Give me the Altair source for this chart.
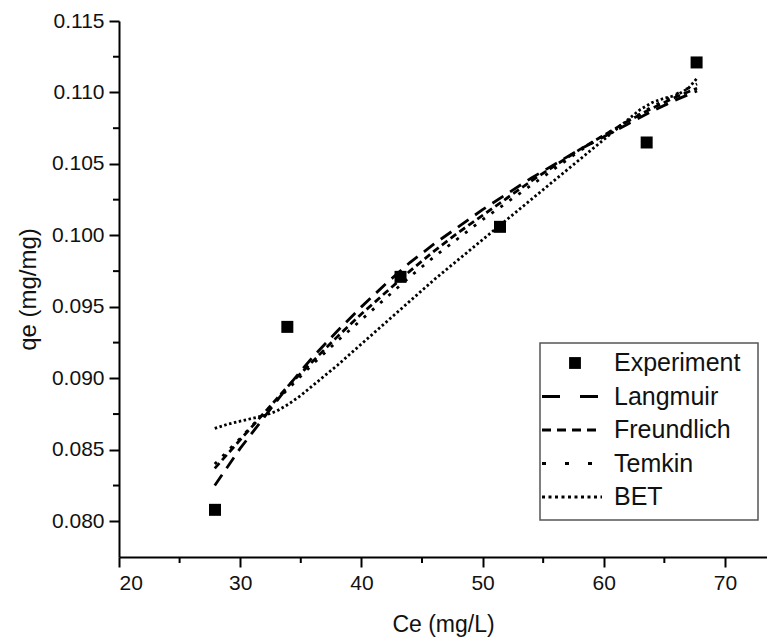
import altair as alt
import pandas as pd

# ---- data ----
exp_x = [27.92, 33.89, 43.23, 51.44, 63.54, 67.66]
exp_y = [0.0808, 0.0936, 0.0971, 0.1006, 0.1065, 0.1121]

model_x = [27.9, 30, 32, 34, 36, 38, 40, 42, 44, 46, 48, 50, 52, 54, 56, 58, 60, 62, 64, 66, 67.7]
langmuir_y = [0.0825, 0.0851, 0.0873, 0.0895, 0.0915, 0.0933, 0.0950, 0.0966, 0.0981, 0.0994, 0.1006,
              0.1018, 0.1029, 0.1040, 0.1050, 0.1060, 0.1069, 0.1078, 0.1087, 0.1095, 0.1101]
freundlich_y = [0.0837, 0.0857, 0.0876, 0.0895, 0.0912, 0.0929, 0.0945, 0.0960, 0.0975, 0.0989, 0.1002,
                0.1014, 0.1026, 0.1038, 0.1049, 0.1060, 0.1070, 0.1080, 0.1089, 0.1097, 0.1103]
temkin_y = [0.0840, 0.0858, 0.0876, 0.0893, 0.0910, 0.0926, 0.0941, 0.0956, 0.0971, 0.0985, 0.0998,
            0.1011, 0.1023, 0.1035, 0.1047, 0.1059, 0.1070, 0.1080, 0.1090, 0.1099, 0.1106]
bet_x = [27.9, 29, 30, 31, 32, 33, 34, 35, 36, 37, 38, 40, 42, 44, 46, 48, 50, 52, 54, 56, 58, 60, 62,
         63, 64, 65, 66, 67, 67.7]
bet_y = [0.0865, 0.0868, 0.0870, 0.0872, 0.0874, 0.0877, 0.0882, 0.0888, 0.0895, 0.0902, 0.0909, 0.0924,
         0.0939, 0.0954, 0.0969, 0.0983, 0.0997, 0.1011, 0.1025, 0.1039, 0.1053, 0.1067, 0.1081, 0.1088,
         0.1093, 0.1096, 0.1098, 0.1103, 0.1110]

series_names = ["Experiment", "Langmuir", "Freundlich", "Temkin", "BET"]
x_major = [20, 30, 40, 50, 60, 70]
x_minor = [25, 35, 45, 55, 65]
y_major = [0.080, 0.085, 0.090, 0.095, 0.100, 0.105, 0.110, 0.115]
y_minor = [0.0825, 0.0875, 0.0925, 0.0975, 0.1025, 0.1075, 0.1125]

# ---- layout / style ----
W, H = 648, 536
X_DOM = [20, 73.47]
Y_DOM = [0.0775, 0.115]
FONT = "Liberation Sans"
plot_dash = {"Langmuir": [13, 8], "Freundlich": [7, 4], "Temkin": [3, 8], "BET": [2.5, 2.5]}
legend_dash = {"Langmuir": [18, 20], "Freundlich": [9, 6], "Temkin": [4, 19], "BET": [3, 3.5]}

rows = []
for name, ys in [("Langmuir", langmuir_y), ("Freundlich", freundlich_y), ("Temkin", temkin_y)]:
    for i, (xv, yv) in enumerate(zip(model_x, ys)):
        rows.append({"series": name, "x": xv, "y": yv, "o": i})
for i, (xv, yv) in enumerate(zip(bet_x, bet_y)):
    rows.append({"series": "BET", "x": xv, "y": yv, "o": i})
lines_df = pd.DataFrame(rows)
exp_df = pd.DataFrame({"x": exp_x, "y": exp_y})

xscale = alt.Scale(domain=X_DOM, nice=False, zero=False)
yscale = alt.Scale(domain=Y_DOM, nice=False, zero=False)
x_axis = alt.Axis(values=x_major, format="d", title="Ce (mg/L)", titlePadding=20, labelPadding=5,
                  titleFontSize=23)
y_axis = alt.Axis(values=y_major, format=".3f", title="qe (mg/mg)", titlePadding=11, labelPadding=5,
                  titleFontSize=24)


def X(field="x"):
    return alt.X(f"{field}:Q", scale=xscale, axis=x_axis, title="Ce (mg/L)")


def Y(field="y"):
    return alt.Y(f"{field}:Q", scale=yscale, axis=y_axis, title="qe (mg/mg)")


line_names = series_names[1:]
lines = alt.Chart(lines_df).mark_line(color="black", strokeWidth=2.8).encode(
    x=X(), y=Y(),
    strokeDash=alt.StrokeDash("series:N", scale=alt.Scale(domain=line_names,
                                                         range=[plot_dash[n] for n in line_names]),
                              legend=None),
    detail="series:N",
    order="o:Q",
)

points = alt.Chart(exp_df).mark_square(size=144, color="black", opacity=1).encode(x=X(), y=Y())

minor_x = alt.Chart(pd.DataFrame({"x": x_minor})).mark_rule(color="black", strokeWidth=2).encode(
    x=X(), y=alt.value(H), y2=alt.value(H + 6),
)
minor_y = alt.Chart(pd.DataFrame({"y": y_minor})).mark_rule(color="black", strokeWidth=2).encode(
    y=Y(), x=alt.value(0), x2=alt.value(-6),
)

# ---- legend box ----
one = pd.DataFrame({"a": [0]})
LX0, LX1, LY0, LY1 = 421, 639, 322, 499
legend_layers = [
    alt.Chart(one).mark_rect(fill="white", stroke="#555555", strokeWidth=1.5).encode(
        x=alt.value(LX0), x2=alt.value(LX1), y=alt.value(LY0), y2=alt.value(LY1))
]
row_y0, row_dy = 342, 33.5
for i, name in enumerate(series_names):
    ry = row_y0 + i * row_dy
    if name == "Experiment":
        legend_layers.append(alt.Chart(one).mark_square(size=140, color="black", opacity=1).encode(
            x=alt.value(456), y=alt.value(ry)))
    else:
        legend_layers.append(alt.Chart(one).mark_rule(color="black", strokeWidth=2.8,
                                                      strokeDash=legend_dash[name]).encode(
            x=alt.value(423), x2=alt.value(483), y=alt.value(ry)))
    legend_layers.append(alt.Chart(one).mark_text(align="left", baseline="middle", font=FONT,
                                                  fontSize=25, color="#111111").encode(
        x=alt.value(495), y=alt.value(ry), text=alt.value(name)))

chart = alt.layer(lines, points, minor_x, minor_y, *legend_layers).properties(
    width=W, height=H,
    padding={"left": 111, "top": 13, "right": 0, "bottom": 80},
    autosize=alt.AutoSizeParams(type="none"),
).configure_view(stroke=None).configure_axis(
    grid=False,
    domainColor="black", domainWidth=2,
    tickColor="black", tickWidth=2, tickSize=10,
    labelFont=FONT, labelFontSize=21, labelColor="#111111",
    titleFont=FONT, titleFontWeight="normal", titleColor="#111111",
)

chart.save("out.html", embed_options={"renderer": "svg", "actions": False})
